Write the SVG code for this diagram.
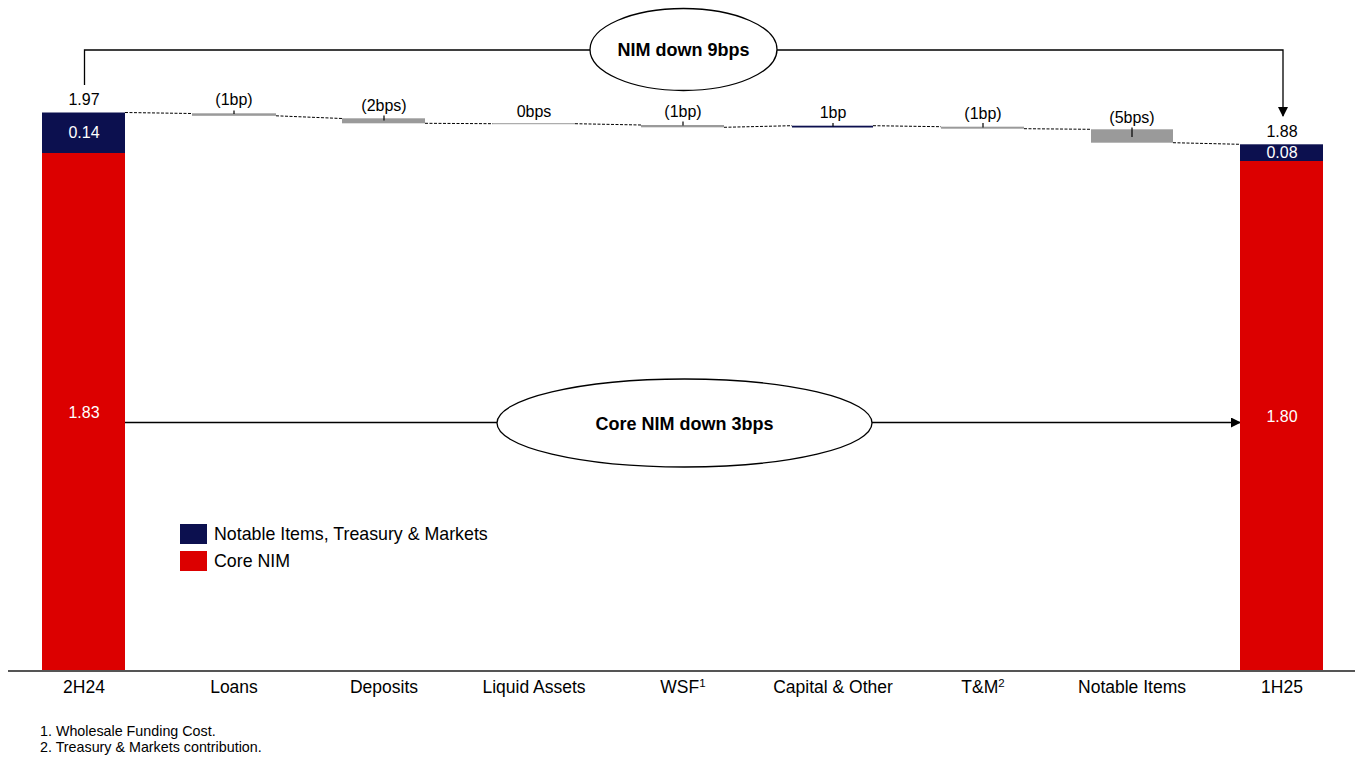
<svg xmlns="http://www.w3.org/2000/svg" width="1360" height="758" viewBox="0 0 1360 758">
<defs>
<style>
text{font-family:"Liberation Sans",Arial,sans-serif;fill:#000}
.lbl{font-size:17.5px;text-anchor:middle}
.val{font-size:16px;text-anchor:middle}
.wv{font-size:16px;text-anchor:middle;fill:#fff}
.bold{font-size:18px;font-weight:bold;text-anchor:middle}
.leg{font-size:17.8px}
.foot{font-size:14.3px}
.navy{fill:#0c104f}
.red{fill:#dc0000}
.gray{fill:#9a9a9a}
.dash{stroke:#000;stroke-width:1;stroke-dasharray:3 1.5;fill:none}
.tick{stroke:#000;stroke-width:1.2}
.conn{stroke:#000;stroke-width:1.3;fill:none}
.ell{fill:#fff;stroke:#000;stroke-width:1.3}
</style>
<marker id="arr" markerWidth="10" markerHeight="10" refX="9" refY="5" orient="auto" markerUnits="userSpaceOnUse">
<path d="M0,0 L10,5 L0,10 Z" fill="#000"/>
</marker>
</defs>
<rect width="1360" height="758" fill="#fff"/>

<g id="axis">
<line x1="8" y1="671" x2="1355" y2="671" stroke="#555" stroke-width="2"/>
</g>

<g id="connectors">
<path class="dash" d="M125,112.5 L192,113.5 M276,115.8 L342,118.5 M425,123.3 L493,123.7 M575,123.7 L641,125 M724,127.3 L792,125.7 M873,125.7 L941,126.7 M1024,128.7 L1091,129.3 M1173,142.7 L1240,144.3"/>
<path class="conn" d="M84.5,85 L84.5,50 L590,50"/>
<path class="conn" d="M777,50 L1283,50 L1283,116" marker-end="url(#arr)"/>
<path class="conn" d="M125,422.5 L497,422.5"/>
<path class="conn" d="M872,422.5 L1240,422.5" marker-end="url(#arr)"/>
</g>

<g id="bar-2H24">
<rect class="navy" x="42" y="112.5" width="83" height="40.5"/>
<rect class="red" x="42" y="153" width="83" height="517"/>
<text class="val" x="84" y="105">1.97</text>
<text class="wv" x="84" y="138">0.14</text>
<text class="wv" x="84" y="418">1.83</text>
<text class="lbl" x="84" y="693">2H24</text>
</g>

<g id="bar-loans">
<rect class="gray" x="192" y="113.3" width="84" height="2.5"/>
<line class="tick" x1="234" y1="110.5" x2="234" y2="114"/>
<text class="val" x="234" y="105">(1bp)</text>
<text class="lbl" x="234" y="693">Loans</text>
</g>

<g id="bar-deposits">
<rect class="gray" x="342" y="118.3" width="83" height="5"/>
<line class="tick" x1="384" y1="115.5" x2="384" y2="120.5"/>
<text class="val" x="384" y="111">(2bps)</text>
<text class="lbl" x="384" y="693">Deposits</text>
</g>

<g id="bar-liquid">
<rect class="gray" x="493" y="123.2" width="82" height="1"/>
<text class="val" x="534" y="116.5">0bps</text>
<text class="lbl" x="534" y="693">Liquid Assets</text>
</g>

<g id="bar-wsf">
<rect class="gray" x="641" y="125" width="83" height="2.3"/>
<line class="tick" x1="683" y1="121.5" x2="683" y2="125.5"/>
<text class="val" x="683" y="117">(1bp)</text>
<text class="lbl" x="683" y="693">WSF<tspan font-size="11.5" dy="-6">1</tspan></text>
</g>

<g id="bar-capital">
<rect class="navy" x="792" y="125.7" width="81" height="1.8"/>
<line class="tick" x1="833" y1="123" x2="833" y2="126.5"/>
<text class="val" x="833" y="118">1bp</text>
<text class="lbl" x="833" y="693">Capital &amp; Other</text>
</g>

<g id="bar-tm">
<rect class="gray" x="941" y="126.7" width="83" height="2"/>
<line class="tick" x1="983" y1="123" x2="983" y2="127.5"/>
<text class="val" x="983" y="119">(1bp)</text>
<text class="lbl" x="983" y="693">T&amp;M<tspan font-size="11.5" dy="-6">2</tspan></text>
</g>

<g id="bar-notable">
<rect class="gray" x="1091" y="129.3" width="82" height="13.4"/>
<line class="tick" x1="1132" y1="127.5" x2="1132" y2="137"/>
<text class="val" x="1132" y="123">(5bps)</text>
<text class="lbl" x="1132" y="693">Notable Items</text>
</g>

<g id="bar-1H25">
<rect class="navy" x="1240" y="144.3" width="83" height="16.7"/>
<rect class="red" x="1240" y="161" width="83" height="509"/>
<text class="val" x="1282" y="136.5">1.88</text>
<text class="wv" x="1282" y="157.5">0.08</text>
<text class="wv" x="1282" y="422">1.80</text>
<text class="lbl" x="1282" y="693">1H25</text>
</g>

<g id="nim-ellipse">
<ellipse class="ell" cx="683.5" cy="49.5" rx="93.5" ry="41"/>
<text class="bold" x="683.5" y="56">NIM down 9bps</text>
</g>

<g id="core-ellipse">
<ellipse class="ell" cx="684.5" cy="423" rx="187.5" ry="44"/>
<text class="bold" x="684.5" y="429.5">Core NIM down 3bps</text>
</g>

<g id="legend">
<rect class="navy" x="180" y="524" width="27" height="20"/>
<rect class="red" x="180" y="551" width="27" height="20"/>
<text class="leg" x="214" y="540">Notable Items, Treasury &amp; Markets</text>
<text class="leg" x="214" y="567">Core NIM</text>
</g>

<g id="footnotes">
<text class="foot" x="40" y="736">1. Wholesale Funding Cost.</text>
<text class="foot" x="40" y="752">2. Treasury &amp; Markets contribution.</text>
</g>
</svg>
